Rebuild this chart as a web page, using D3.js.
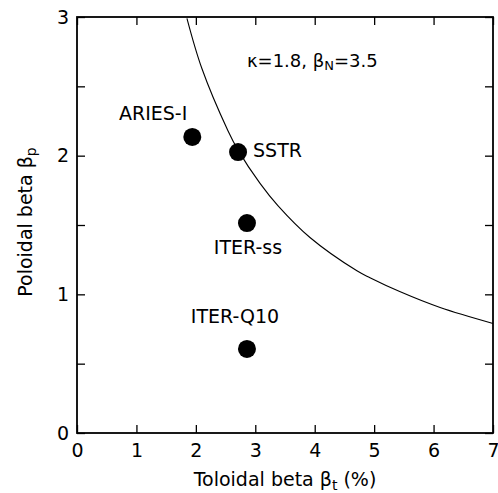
<!DOCTYPE html>
<html>
<head>
<meta charset="utf-8">
<script src="https://cdn.jsdelivr.net/npm/d3@7"></script>
<style>
  body { margin: 0; background: #fff; }
  svg { display: block; font-family: "DejaVu Sans", sans-serif; }
</style>
</head>
<body>
<figure id="beta-plot" style="margin:0"></figure>
<script>
// design points (toroidal beta %, poloidal beta)
const names = ['ARIES-I', 'SSTR', 'ITER-ss', 'ITER-Q10'];
const betaT = [1.94, 2.71, 2.86, 2.86];
const betaP = [2.135, 2.026, 1.514, 0.606];

// beta limit curve (kappa=1.8, betaN=3.5)
const limitT = [1.85, 2.1, 2.54, 2.71, 3.08, 3.38, 3.92, 4.71, 4.93, 5.43, 6.11, 7.0];
const limitP = [2.99, 2.63, 2.18, 2.04, 1.80, 1.64, 1.41, 1.17, 1.12, 1.02, 0.905, 0.79];

const xTicks = [0, 1, 2, 3, 4, 5, 6, 7];
const yTicks = [0, 0.5, 1, 1.5, 2, 2.5, 3];

const W = 498, H = 493;
const margin = { top: 17, right: 5, bottom: 60, left: 77 };
const width = W - margin.left - margin.right;
const height = H - margin.top - margin.bottom;

const svg = d3.select('figure#beta-plot')
  .append('svg')
  .attr('width', W)
  .attr('height', H);

const g = svg.append('g')
  .attr('transform', 'translate(' + margin.left + ',' + margin.top + ')');

const x = d3.scaleLinear().domain([0, 7]).range([0, width]);
const y = d3.scaleLinear().domain([0, 3]).range([height, 0]);

const fs = 19;
const noLabel = () => '';
const intLabel = d => Number.isInteger(d) ? d3.format('d')(d) : '';

// bottom axis
g.append('g')
  .attr('transform', 'translate(0,' + height + ')')
  .call(d3.axisBottom(x).tickValues(xTicks).tickSize(-8).tickSizeOuter(0).tickPadding(11).tickFormat(d3.format('d')))
  .call(a => a.select('.domain').remove());

// top axis (ticks only)
g.append('g')
  .call(d3.axisTop(x).tickValues(xTicks).tickSize(-8).tickSizeOuter(0).tickFormat(noLabel))
  .call(a => a.select('.domain').remove());

// left axis
g.append('g')
  .call(d3.axisLeft(y).tickValues(yTicks).tickSize(-8).tickSizeOuter(0).tickPadding(8).tickFormat(intLabel))
  .call(a => a.select('.domain').remove());

// right axis (ticks only)
g.append('g')
  .attr('transform', 'translate(' + width + ',0)')
  .call(d3.axisRight(y).tickValues(yTicks).tickSize(-8).tickSizeOuter(0).tickFormat(noLabel))
  .call(a => a.select('.domain').remove());

g.selectAll('.tick line').attr('stroke', '#000').attr('stroke-width', 1.3);
g.selectAll('.tick text')
  .attr('font-family', '"DejaVu Sans", sans-serif')
  .attr('font-size', fs)
  .attr('fill', '#000');

// frame
g.append('rect')
  .attr('width', width)
  .attr('height', height)
  .attr('fill', 'none')
  .attr('stroke', '#000')
  .attr('stroke-width', 1.8);

// limit curve
const limit = limitT.map((t, i) => ({ t: t, p: limitP[i] }));
g.append('path')
  .datum(limit)
  .attr('fill', 'none')
  .attr('stroke', '#000')
  .attr('stroke-width', 1.1)
  .attr('d', d3.line().x(d => x(d.t)).y(d => y(d.p)).curve(d3.curveCatmullRom));

// points
const pts = names.map((n, i) => ({ name: n, t: betaT[i], p: betaP[i] }));
g.selectAll('circle.pt')
  .data(pts)
  .enter()
  .append('circle')
  .attr('class', 'pt')
  .attr('cx', d => x(d.t))
  .attr('cy', d => y(d.p))
  .attr('r', 9)
  .attr('fill', '#000');

// labels, offset in pixels from their point
const labelPos = {
  'ARIES-I': { dx: -5, dy: -17, anchor: 'end' },
  'SSTR': { dx: 15, dy: 5, anchor: 'start' },
  'ITER-ss': { dx: 1, dy: 31, anchor: 'middle' },
  'ITER-Q10': { dx: -12, dy: -26, anchor: 'middle' }
};
g.selectAll('text.lbl')
  .data(pts)
  .enter()
  .append('text')
  .attr('class', 'lbl')
  .attr('x', d => x(d.t) + labelPos[d.name].dx)
  .attr('y', d => y(d.p) + labelPos[d.name].dy)
  .attr('text-anchor', d => labelPos[d.name].anchor)
  .attr('font-size', fs)
  .text(d => d.name);

// annotation
const ann = g.append('text')
  .attr('x', x(2.86))
  .attr('y', y(2.64))
  .attr('font-size', 18);
ann.append('tspan').text('\u03ba=1.8, \u03b2');
ann.append('tspan').attr('font-size', 13).attr('dy', 3).text('N');
ann.append('tspan').attr('dy', -3).text('=3.5');

// axis titles
const xt = svg.append('text')
  .attr('x', margin.left + width / 2)
  .attr('y', 486)
  .attr('text-anchor', 'middle')
  .attr('font-size', fs);
xt.append('tspan').text('Toloidal beta \u03b2');
xt.append('tspan').attr('font-size', 14).attr('dy', 4).text('t');
xt.append('tspan').attr('dy', -4).text(' (%)');

const yt = svg.append('text')
  .attr('transform', 'translate(32,' + (margin.top + height / 2 - 3) + ') rotate(-90)')
  .attr('text-anchor', 'middle')
  .attr('font-size', fs);
yt.append('tspan').text('Poloidal beta \u03b2');
yt.append('tspan').attr('font-size', 14).attr('dy', 4).text('p');
</script>
</body>
</html>
